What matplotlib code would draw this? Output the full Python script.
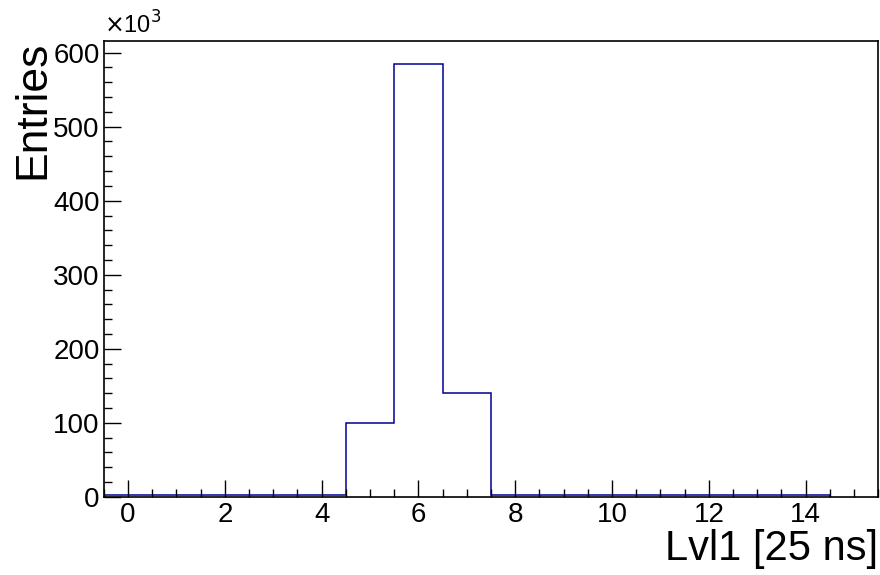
import numpy as np
import matplotlib
matplotlib.use("Agg")
import matplotlib.pyplot as plt
from matplotlib.ticker import MultipleLocator, FuncFormatter

plt.rcParams['font.family'] = ['Liberation Sans', 'DejaVu Sans']

# Histogram data (Lvl1 bins, entries)
bin_edges = np.arange(-0.5, 16.5, 1.0)
entries = [2000, 2000, 2000, 2000, 2000, 100000, 585000, 140500,
           3000, 2000, 2000, 2000, 2000, 2000, 2000, 0]

fig = plt.figure(figsize=(8.8, 5.75), dpi=100)
ax = fig.add_axes([0.118, 0.136, 0.880, 0.793])

ax.stairs(entries[:15], bin_edges[:16], color='#000099', linewidth=1.1)

ax.set_xlim(-0.5, 15.5)
ax.set_ylim(0, 616000)

ax.xaxis.set_major_locator(MultipleLocator(2))
ax.xaxis.set_minor_locator(MultipleLocator(0.5))
ax.yaxis.set_major_locator(MultipleLocator(100000))
ax.yaxis.set_minor_locator(MultipleLocator(20000))
ax.yaxis.set_major_formatter(FuncFormatter(lambda v, p: f"{v/1000:.0f}"))

ax.tick_params(which='both', direction='in', top=False, right=False,
               labelsize=20, width=1, colors='black')
ax.tick_params(which='major', length=12)
ax.tick_params(which='minor', length=6)
ax.tick_params(axis='x', pad=4)
ax.tick_params(axis='y', pad=3)
for s in ax.spines.values():
    s.set_linewidth(1.2)

ax.set_xlabel('Lvl1 [25 ns]', fontsize=30, ha='right', va='top')
ax.xaxis.set_label_coords(1.0, -0.07)
ax.set_ylabel('Entries', fontsize=32, loc='top', labelpad=0)
ax.text(0.0, 1.005, r'$\times$10$^3$', transform=ax.transAxes,
        fontsize=17, ha='left', va='bottom')

fig.savefig('out.png', dpi=100)
